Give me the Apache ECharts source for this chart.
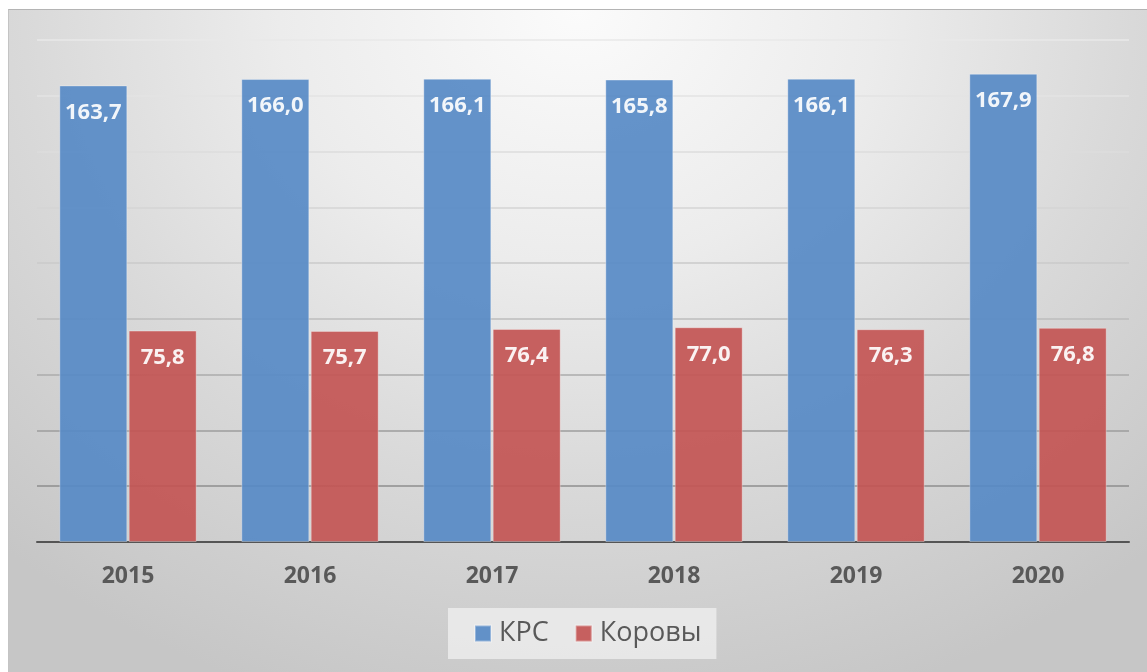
<!DOCTYPE html>
<html>
<head>
<meta charset="utf-8">
<script src="https://cdn.jsdelivr.net/npm/echarts@6/dist/echarts.min.js"></script>
<style>
  html, body { margin: 0; padding: 0; background: #fff; }
  .frame {
    position: absolute; left: 8px; top: 9px; right: 0; bottom: 0;
    border-top: 1px solid #b4b4b4; border-left: 1px solid #c4c4c4;
    background: radial-gradient(ellipse 75% 110% at 50% 0%, #fbfbfb 0%, #ececec 35%, #d9d9d9 65%, #c6c6c6 100%);
  }
  #chart { position: absolute; left: 0; top: 0; width: 1147px; height: 672px; }
</style>
</head>
<body>
<div class="frame"></div>
<div id="chart"></div>
<script>
// данные
const years = ['2015', '2016', '2017', '2018', '2019', '2020']
const krs = [163.7, 166.0, 166.1, 165.8, 166.1, 167.9]
const cows = [75.8, 75.7, 76.4, 77.0, 76.3, 76.8]
const seriesNames = ['КРС', 'Коровы']

// линии сетки светлеют кверху
const gridColors = ['#888', '#8e8e8e', '#9c9c9c', '#ababab', '#bcbcbc', '#cacaca', '#d5d5d5', '#dddddd', '#e3e3e3', '#e8e8e8']

const font = '"Open Sans", "DejaVu Sans", sans-serif'

function comma(p) {
  return p.value.toFixed(1).replace('.', ',')
}

const barLabel = {
  show: true,
  position: 'insideTop',
  distance: 16,
  color: '#fff',
  fontSize: 22,
  fontWeight: 'bold',
  fontFamily: font,
  formatter: comma
}

var myChart = echarts.init(document.getElementById('chart'))
var option = {
  animation: false,
  textStyle: { fontFamily: font },
  grid: { left: 37, right: 18, top: 40, bottom: 130 },
  legend: {
    data: seriesNames,
    left: 448,
    top: 608,
    icon: 'rect',
    itemWidth: 16,
    itemHeight: 16,
    itemGap: 26,
    padding: [12, 15, 12, 26],
    backgroundColor: 'rgba(240,240,240,0.75)',
    textStyle: { fontSize: 27, color: '#595959', fontFamily: font, padding: [0, 0, 0, 3] }
  },
  xAxis: {
    type: 'category',
    data: years,
    axisLine: { lineStyle: { color: '#555', width: 2 } },
    axisTick: { show: false },
    axisLabel: { margin: 23, fontSize: 23, fontWeight: 'bold', color: '#595959', fontFamily: font }
  },
  yAxis: {
    type: 'value',
    min: 0,
    max: 180,
    interval: 20,
    axisLabel: { show: false },
    axisLine: { show: false },
    axisTick: { show: false },
    splitLine: { lineStyle: { color: gridColors, width: 1.5 } }
  },
  series: [
    {
      name: seriesNames[0],
      type: 'bar',
      data: krs,
      barWidth: 68,
      barGap: '2%',
      itemStyle: { color: '#578ac6', opacity: 0.92, borderColor: 'rgba(255,255,255,0.35)', borderWidth: 1 },
      label: barLabel
    },
    {
      name: seriesNames[1],
      type: 'bar',
      data: cows,
      barWidth: 68,
      barGap: '2%',
      itemStyle: { color: '#c35554', opacity: 0.92, borderColor: 'rgba(255,255,255,0.35)', borderWidth: 1 },
      label: barLabel
    }
  ]
}
myChart.setOption(option)
</script>
</body>
</html>
